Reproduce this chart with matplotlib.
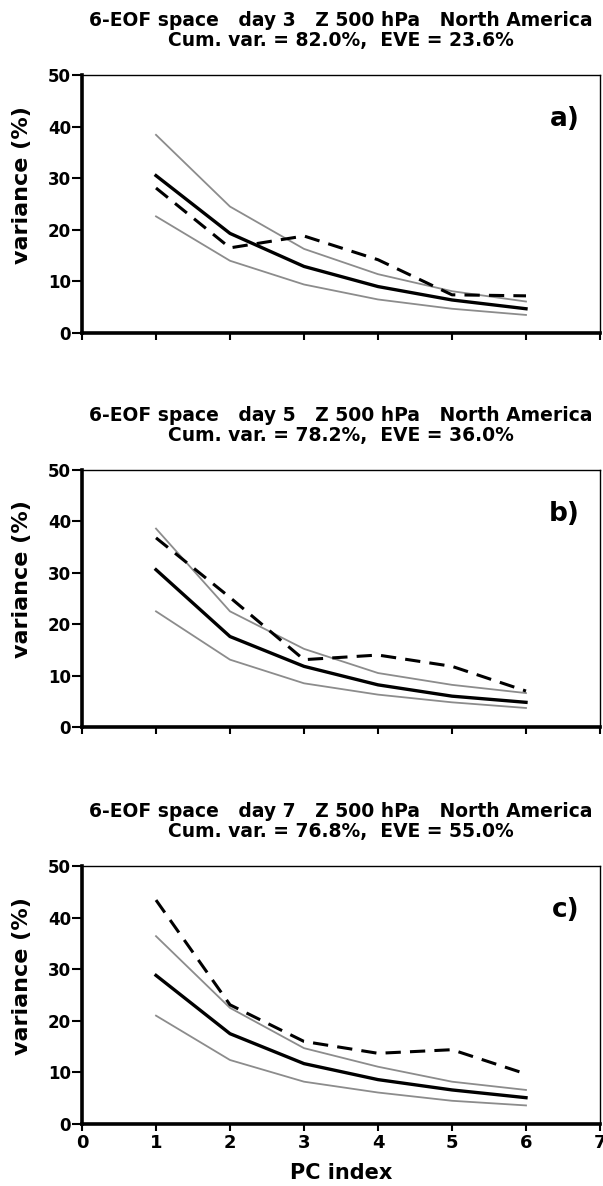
import matplotlib.pyplot as plt

plt.rcParams['font.family'] = ['DejaVu Sans']
plt.rcParams['font.weight'] = 'bold'

pc = [1, 2, 3, 4, 5, 6]

days = [3, 5, 7]
cum_var = [82.0, 78.2, 76.8]
eve = [23.6, 36.0, 55.0]
panel_tags = ['a)', 'b)', 'c)']

# mean variance per PC and its spread band, plus the observed (dashed) curve
mean_var = [
    [30.5, 19.3, 12.9, 9.0, 6.4, 4.7],
    [30.6, 17.6, 11.8, 8.2, 6.0, 4.8],
    [28.8, 17.5, 11.7, 8.6, 6.6, 5.1],
]
upper_var = [
    [38.4, 24.5, 16.3, 11.4, 8.1, 6.1],
    [38.6, 22.5, 15.2, 10.5, 8.2, 6.6],
    [36.4, 22.5, 14.7, 11.1, 8.2, 6.6],
]
lower_var = [
    [22.6, 14.0, 9.4, 6.5, 4.7, 3.5],
    [22.5, 13.1, 8.5, 6.3, 4.8, 3.7],
    [21.0, 12.4, 8.2, 6.1, 4.5, 3.6],
]
obs_var = [
    [28.1, 16.5, 18.8, 14.2, 7.4, 7.2],
    [36.8, 25.2, 13.1, 14.0, 11.8, 7.0],
    [43.4, 23.1, 16.0, 13.7, 14.4, 9.7],
]

fig = plt.figure(figsize=(6.03, 11.86), dpi=100)
W, H = 603, 1186
boxes = [(75, 333), (470, 727), (866, 1124)]
left, right = 82, 600

for i, (top, bot) in enumerate(boxes):
    ax = fig.add_axes([left / W, 1 - bot / H, (right - left) / W, (bot - top) / H])
    ax.plot(pc, upper_var[i], color='#8c8c8c', lw=1.3)
    ax.plot(pc, lower_var[i], color='#8c8c8c', lw=1.3)
    ax.plot(pc, mean_var[i], color='black', lw=2.4)
    ax.plot(pc, obs_var[i], color='black', lw=2.2, ls=(0, (5, 3)))

    ax.set_xlim(0, 7)
    ax.set_ylim(0, 50)
    ax.set_xticks(range(0, 8))
    ax.set_yticks(range(0, 51, 10))
    ax.tick_params(axis='y', direction='out', length=7, width=1.5, labelsize=12, pad=1)
    ax.tick_params(axis='x', direction='out', length=5, width=1.5, labelsize=13, pad=2)
    for s in ['left', 'bottom']:
        ax.spines[s].set_linewidth(2.6)
    for s in ['top', 'right']:
        ax.spines[s].set_linewidth(1.0)
    if i < 2:
        ax.set_xticklabels([])
    else:
        ax.set_xlabel('PC index', fontsize=15, fontweight='bold', labelpad=8)
    ax.set_ylabel('variance (%)', fontsize=16, fontweight='bold')
    ax.yaxis.set_label_coords(-0.097, 0.575)

    ax.set_title(f'6-EOF space   day {days[i]}   Z 500 hPa   North America\n'
                 f'Cum. var. = {cum_var[i]:.1f}%,  EVE = {eve[i]:.1f}%',
                 fontsize=13.5, fontweight='bold', pad=21, linespacing=1.05)
    ax.text(0.96, 0.83, panel_tags[i], transform=ax.transAxes, ha='right',
            va='center', fontsize=19, fontweight='heavy')

fig.savefig('out.png', dpi=100)
